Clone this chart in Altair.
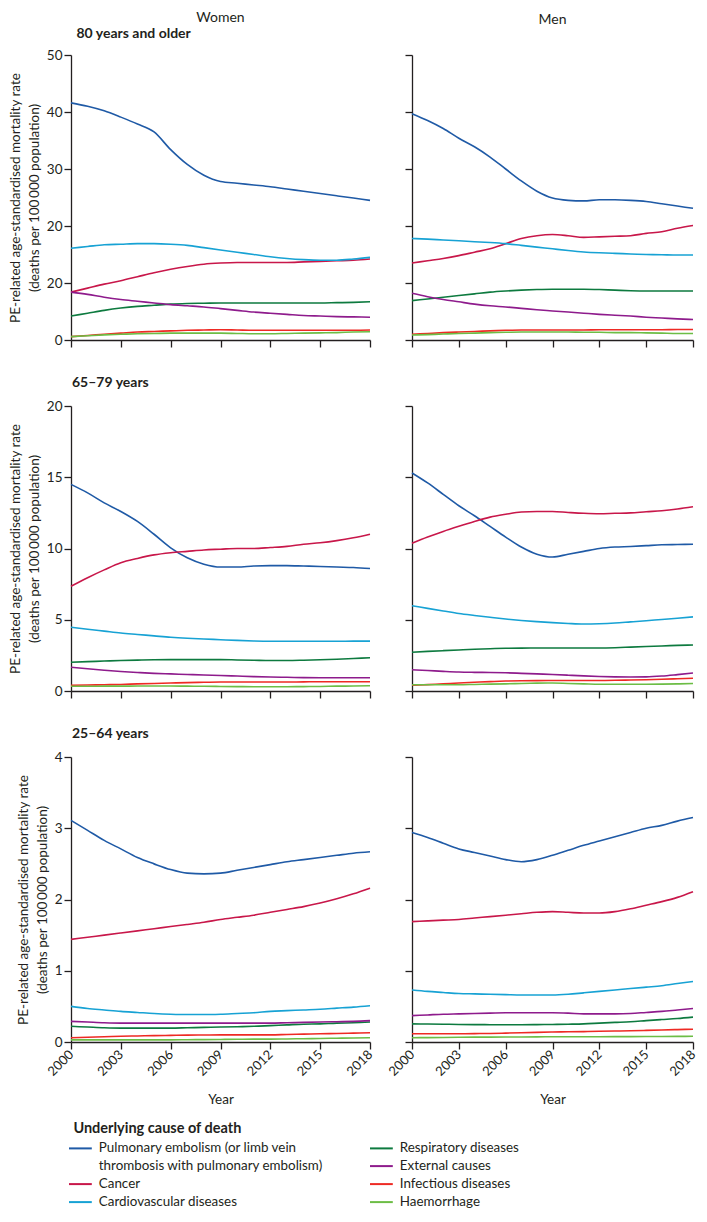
import altair as alt
import pandas as pd

YEARS = list(range(2000, 2019))
X_TICKS = [2000, 2003, 2006, 2009, 2012, 2015, 2018]

PE = "Pulmonary embolism (or limb vein thrombosis with pulmonary embolism)"
CONT = "_cont"
CANCER = "Cancer"
CARDIO = "Cardiovascular diseases"
RESP = "Respiratory diseases"
EXT = "External causes"
INF = "Infectious diseases"
HAEM = "Haemorrhage"

# legend is filled column by column: left column (PE on two lines, Cancer, Cardio), right column (the rest)
LEGEND_ORDER = [PE, CONT, CANCER, CARDIO, RESP, EXT, INF, HAEM]
LEGEND_COLORS = ["#1f5aa6", "transparent", "#c8174a", "#17a2d4", "#0d7a3f", "#8e1b8c", "#ee2a24", "#6cbd45"]

# ---- Women, 80 years and older ----
W80_PE = [41.6, 41.0, 40.2, 39.1, 37.9, 36.5, 33.4, 30.8, 28.9, 27.8, 27.5, 27.2, 26.9, 26.5, 26.1, 25.7, 25.3, 24.9, 24.5]
W80_CANCER = [8.4, 9.1, 9.8, 10.4, 11.1, 11.8, 12.4, 12.9, 13.3, 13.5, 13.6, 13.6, 13.6, 13.6, 13.7, 13.8, 13.9, 14.0, 14.2]
W80_CARDIO = [16.1, 16.4, 16.7, 16.8, 16.9, 16.9, 16.8, 16.6, 16.2, 15.8, 15.4, 15.0, 14.6, 14.3, 14.1, 14.0, 14.0, 14.2, 14.5]
W80_RESP = [4.2, 4.7, 5.2, 5.6, 5.9, 6.1, 6.3, 6.4, 6.45, 6.5, 6.5, 6.5, 6.5, 6.5, 6.5, 6.5, 6.55, 6.6, 6.7]
W80_EXT = [8.4, 8.0, 7.5, 7.1, 6.8, 6.5, 6.2, 6.0, 5.8, 5.5, 5.2, 4.9, 4.7, 4.5, 4.3, 4.2, 4.1, 4.05, 4.0]
W80_INF = [0.6, 0.8, 1.0, 1.2, 1.4, 1.5, 1.6, 1.7, 1.75, 1.8, 1.75, 1.7, 1.7, 1.7, 1.7, 1.7, 1.7, 1.7, 1.75]
W80_HAEM = [0.6, 0.75, 0.9, 1.0, 1.1, 1.15, 1.2, 1.2, 1.2, 1.2, 1.15, 1.1, 1.1, 1.15, 1.2, 1.25, 1.3, 1.4, 1.45]

# ---- Men, 80 years and older ----
M80_PE = [39.7, 38.5, 37.1, 35.4, 33.9, 32.1, 30.0, 27.9, 26.1, 24.9, 24.5, 24.4, 24.6, 24.6, 24.5, 24.3, 23.9, 23.5, 23.1]
M80_CANCER = [13.5, 13.9, 14.3, 14.8, 15.4, 16.0, 16.9, 17.8, 18.3, 18.5, 18.3, 18.0, 18.1, 18.2, 18.3, 18.7, 19.0, 19.6, 20.1]
M80_CARDIO = [17.8, 17.7, 17.55, 17.4, 17.25, 17.1, 16.9, 16.6, 16.3, 16.0, 15.7, 15.45, 15.3, 15.2, 15.1, 15.0, 14.95, 14.9, 14.9]
M80_RESP = [6.9, 7.2, 7.5, 7.8, 8.1, 8.4, 8.6, 8.75, 8.85, 8.9, 8.9, 8.9, 8.85, 8.75, 8.65, 8.6, 8.6, 8.6, 8.6]
M80_EXT = [8.2, 7.6, 7.1, 6.7, 6.3, 6.0, 5.8, 5.55, 5.3, 5.1, 4.9, 4.7, 4.5, 4.35, 4.2, 4.0, 3.85, 3.7, 3.6]
M80_INF = [1.0, 1.15, 1.3, 1.4, 1.5, 1.6, 1.7, 1.75, 1.75, 1.75, 1.75, 1.75, 1.8, 1.8, 1.8, 1.8, 1.8, 1.85, 1.85]
M80_HAEM = [0.87, 0.95, 1.05, 1.15, 1.2, 1.3, 1.35, 1.4, 1.4, 1.4, 1.4, 1.35, 1.35, 1.3, 1.3, 1.25, 1.2, 1.15, 1.15]

# ---- Women, 65-79 years ----
W65_PE = [14.5, 13.9, 13.2, 12.6, 11.9, 11.0, 10.05, 9.35, 8.9, 8.7, 8.7, 8.77, 8.8, 8.8, 8.77, 8.74, 8.7, 8.67, 8.6]
W65_CANCER = [7.35, 7.95, 8.5, 9.0, 9.3, 9.55, 9.7, 9.8, 9.9, 9.95, 10.0, 10.0, 10.07, 10.15, 10.3, 10.4, 10.55, 10.75, 11.0]
W65_CARDIO = [4.47, 4.33, 4.2, 4.07, 3.97, 3.87, 3.77, 3.7, 3.65, 3.6, 3.55, 3.51, 3.49, 3.49, 3.49, 3.49, 3.49, 3.5, 3.5]
W65_RESP = [2.02, 2.06, 2.1, 2.14, 2.17, 2.19, 2.2, 2.2, 2.2, 2.2, 2.18, 2.16, 2.14, 2.14, 2.16, 2.19, 2.23, 2.28, 2.33]
W65_EXT = [1.67, 1.56, 1.46, 1.37, 1.3, 1.24, 1.2, 1.16, 1.12, 1.09, 1.05, 1.01, 0.98, 0.96, 0.94, 0.93, 0.93, 0.93, 0.93]
W65_INF = [0.4, 0.42, 0.44, 0.46, 0.5, 0.53, 0.56, 0.59, 0.61, 0.63, 0.63, 0.63, 0.63, 0.63, 0.64, 0.65, 0.65, 0.65, 0.65]
W65_HAEM = [0.33, 0.33, 0.34, 0.34, 0.35, 0.35, 0.35, 0.34, 0.33, 0.32, 0.31, 0.3, 0.3, 0.3, 0.31, 0.32, 0.34, 0.35, 0.37]

# ---- Men, 65-79 years ----
M65_PE = [15.3, 14.6, 13.8, 13.0, 12.3, 11.55, 10.8, 10.1, 9.6, 9.4, 9.6, 9.8, 10.0, 10.1, 10.14, 10.2, 10.26, 10.28, 10.3]
M65_CANCER = [10.37, 10.8, 11.2, 11.56, 11.9, 12.2, 12.4, 12.56, 12.6, 12.6, 12.53, 12.47, 12.44, 12.47, 12.5, 12.58, 12.65, 12.77, 12.93]
M65_CARDIO = [5.98, 5.8, 5.62, 5.44, 5.3, 5.17, 5.05, 4.95, 4.87, 4.8, 4.74, 4.7, 4.72, 4.77, 4.85, 4.93, 5.02, 5.1, 5.2]
M65_RESP = [2.72, 2.78, 2.83, 2.88, 2.93, 2.97, 3.0, 3.01, 3.02, 3.02, 3.02, 3.02, 3.02, 3.04, 3.08, 3.12, 3.16, 3.2, 3.23]
M65_EXT = [1.49, 1.44, 1.38, 1.33, 1.31, 1.3, 1.28, 1.24, 1.2, 1.16, 1.11, 1.06, 1.02, 0.99, 0.98, 0.99, 1.05, 1.15, 1.26]
M65_INF = [0.4, 0.45, 0.5, 0.56, 0.61, 0.66, 0.7, 0.72, 0.73, 0.74, 0.74, 0.74, 0.74, 0.75, 0.77, 0.79, 0.82, 0.86, 0.9]
M65_HAEM = [0.44, 0.44, 0.44, 0.44, 0.46, 0.48, 0.5, 0.53, 0.55, 0.56, 0.53, 0.5, 0.47, 0.47, 0.47, 0.47, 0.48, 0.5, 0.53]

# ---- Women, 25-64 years ----
W25_PE = [3.11, 2.97, 2.83, 2.71, 2.59, 2.5, 2.42, 2.37, 2.36, 2.37, 2.41, 2.45, 2.49, 2.53, 2.56, 2.59, 2.62, 2.65, 2.67]
W25_CANCER = [1.44, 1.47, 1.5, 1.53, 1.56, 1.59, 1.62, 1.65, 1.68, 1.72, 1.75, 1.78, 1.82, 1.86, 1.9, 1.95, 2.01, 2.08, 2.16]
W25_CARDIO = [0.5, 0.47, 0.45, 0.43, 0.415, 0.4, 0.39, 0.385, 0.385, 0.39, 0.4, 0.41, 0.43, 0.44, 0.45, 0.46, 0.475, 0.49, 0.51]
W25_RESP = [0.22, 0.21, 0.2, 0.195, 0.195, 0.195, 0.195, 0.2, 0.205, 0.21, 0.215, 0.22, 0.23, 0.24, 0.25, 0.255, 0.265, 0.27, 0.28]
W25_EXT = [0.29, 0.28, 0.27, 0.265, 0.265, 0.265, 0.265, 0.265, 0.265, 0.265, 0.265, 0.265, 0.265, 0.27, 0.275, 0.28, 0.285, 0.29, 0.3]
W25_INF = [0.06, 0.067, 0.073, 0.08, 0.085, 0.09, 0.093, 0.096, 0.098, 0.1, 0.1, 0.1, 0.1, 0.105, 0.11, 0.116, 0.12, 0.125, 0.13]
W25_HAEM = [0.03, 0.03, 0.03, 0.03, 0.03, 0.03, 0.03, 0.032, 0.034, 0.036, 0.038, 0.04, 0.04, 0.043, 0.046, 0.05, 0.053, 0.056, 0.06]

# ---- Men, 25-64 years ----
M25_PE = [2.94, 2.87, 2.79, 2.71, 2.66, 2.61, 2.56, 2.53, 2.56, 2.62, 2.69, 2.76, 2.82, 2.88, 2.94, 3.0, 3.04, 3.1, 3.15]
M25_CANCER = [1.69, 1.70, 1.71, 1.72, 1.74, 1.76, 1.78, 1.80, 1.82, 1.83, 1.82, 1.81, 1.81, 1.83, 1.87, 1.92, 1.97, 2.03, 2.11]
M25_CARDIO = [0.73, 0.71, 0.695, 0.68, 0.675, 0.67, 0.665, 0.66, 0.66, 0.66, 0.67, 0.69, 0.71, 0.73, 0.75, 0.77, 0.79, 0.82, 0.85]
M25_RESP = [0.255, 0.252, 0.25, 0.246, 0.244, 0.243, 0.242, 0.242, 0.244, 0.246, 0.25, 0.255, 0.265, 0.275, 0.285, 0.3, 0.315, 0.33, 0.35]
M25_EXT = [0.37, 0.38, 0.39, 0.395, 0.4, 0.405, 0.41, 0.41, 0.41, 0.41, 0.405, 0.395, 0.395, 0.395, 0.4, 0.415, 0.43, 0.45, 0.47]
M25_INF = [0.116, 0.116, 0.116, 0.116, 0.118, 0.12, 0.125, 0.13, 0.135, 0.14, 0.143, 0.146, 0.15, 0.154, 0.158, 0.163, 0.168, 0.174, 0.18]
M25_HAEM = [0.06, 0.062, 0.064, 0.066, 0.068, 0.069, 0.07, 0.071, 0.072, 0.073, 0.073, 0.074, 0.074, 0.075, 0.076, 0.077, 0.078, 0.079, 0.08]

SERIES = {
    ("Women", "80"): {PE: W80_PE, CANCER: W80_CANCER, CARDIO: W80_CARDIO, RESP: W80_RESP, EXT: W80_EXT, INF: W80_INF, HAEM: W80_HAEM},
    ("Men", "80"): {PE: M80_PE, CANCER: M80_CANCER, CARDIO: M80_CARDIO, RESP: M80_RESP, EXT: M80_EXT, INF: M80_INF, HAEM: M80_HAEM},
    ("Women", "65"): {PE: W65_PE, CANCER: W65_CANCER, CARDIO: W65_CARDIO, RESP: W65_RESP, EXT: W65_EXT, INF: W65_INF, HAEM: W65_HAEM},
    ("Men", "65"): {PE: M65_PE, CANCER: M65_CANCER, CARDIO: M65_CARDIO, RESP: M65_RESP, EXT: M65_EXT, INF: M65_INF, HAEM: M65_HAEM},
    ("Women", "25"): {PE: W25_PE, CANCER: W25_CANCER, CARDIO: W25_CARDIO, RESP: W25_RESP, EXT: W25_EXT, INF: W25_INF, HAEM: W25_HAEM},
    ("Men", "25"): {PE: M25_PE, CANCER: M25_CANCER, CARDIO: M25_CARDIO, RESP: M25_RESP, EXT: M25_EXT, INF: M25_INF, HAEM: M25_HAEM},
}

rows = []
for (sex, age), d in SERIES.items():
    for cause, vals in d.items():
        for yr, v in zip(YEARS, vals):
            rows.append({"sex": sex, "age": age, "cause": cause, "year": yr, "rate": v})
df = pd.DataFrame(rows)

FONT = "Lato"
INK = "#231f20"
Y_TITLE = ["PE-related age-standardised mortality rate", "(deaths per 100\u2009000 population)"]

ROW_TITLES = {"80": "80 years and older", "65": "65\u201379 years", "25": "25\u201364 years"}
Y_MAX = {"80": 50, "65": 20, "25": 4}
Y_STEP = {"80": 10, "65": 5, "25": 1}

PANEL_H = 285
W_WIDTH = 299
M_WIDTH = 281
ROW_SPACING = 28

color_enc = alt.Color(
    "cause:N",
    scale=alt.Scale(domain=LEGEND_ORDER, range=LEGEND_COLORS),
    legend=alt.Legend(
        title="Underlying cause of death",
        orient="none",
        legendX=2.4,
        legendY=1066.6,
        padding=0,
        columns=2,
        direction="vertical",
        symbolType="M-2,0H2",
        symbolSize=130,
        symbolStrokeWidth=2,
        labelFontSize=13.4,
        labelFont=FONT,
        labelColor=INK,
        labelLimit=400,
        labelOffset=11.4,
        titleFont=FONT,
        titleFontSize=14.5,
        titleFontWeight="bold",
        titleColor=INK,
        titlePadding=5,
        rowPadding=4,
        columnPadding=42,
        labelExpr=(
            "datum.value == '" + PE + "' ? 'Pulmonary embolism (or limb vein' : "
            "datum.value == '" + CONT + "' ? 'thrombosis with pulmonary embolism)' : datum.label"
        ),
    ),
)

X_SCALE = alt.Scale(domain=[2000, 2018], nice=False, zero=False)


def lines(sex, age, width):
    women = sex == "Women"
    bottom = age == "25"
    ymax, ystep = Y_MAX[age], Y_STEP[age]
    yvals = list(range(0, ymax + 1, ystep))
    ylabel_expr = "datum.label"
    if women and age == "80":
        # the reference figure labels the 10 tick as "20"
        ylabel_expr = "datum.value == 10 ? '20' : datum.label"
    x_axis = alt.Axis(
        values=X_TICKS,
        format="d",
        labels=bottom,
        labelAngle=-45,
        labelAlign="right",
        labelBaseline="middle",
        labelPadding=3,
        labelFontSize=13,
        title="Year" if bottom else None,
        titlePadding=14,
    )
    y_enc = alt.Y(
        "rate:Q",
        scale=alt.Scale(domain=[0, ymax], nice=False),
        axis=alt.Axis(values=yvals, labels=women, labelExpr=ylabel_expr,
                      title=Y_TITLE if women else None, titlePadding=5),
    )
    base = alt.Chart(df).transform_filter((alt.datum.sex == sex) & (alt.datum.age == age))
    main = base.mark_line(strokeWidth=1.6, interpolate="monotone").encode(
        x=alt.X("year:Q", scale=X_SCALE, axis=x_axis),
        y=y_enc,
        color=color_enc,
    )
    return base, main, y_enc


def header(text, offset):
    return alt.TitleParams(
        text, anchor="middle", frame="group", fontSize=14, fontWeight="normal",
        font=FONT, color=INK, offset=offset,
    )


def row_title(text):
    return alt.TitleParams(
        text, anchor="start", frame="group", fontSize=14, fontWeight="bold",
        font=FONT, color=INK, dx=1, offset=9,
    )


# --- row 1: column headers + age band written on a top axis of the women panel ---
b, w1_main, w1_y = lines("Women", "80", W_WIDTH)
w1_top = b.mark_line(strokeOpacity=0).encode(
    x=alt.X("year:Q", scale=X_SCALE, axis=alt.Axis(
        orient="top", labels=False, ticks=False, domain=False,
        title=ROW_TITLES["80"], titleFontWeight="bold", titleFontSize=14,
        titleAlign="left", titleAnchor="start", titleBaseline="middle",
        titleX=5, titleY=-22,
    )),
    y=w1_y,
)
W1 = (
    alt.layer(w1_main, w1_top)
    .resolve_axis(x="independent")
    .properties(width=W_WIDTH, height=PANEL_H, title=header("Women", 1))
)
_, m1_main, _ = lines("Men", "80", M_WIDTH)
M1 = m1_main.properties(width=M_WIDTH, height=PANEL_H, title=header("Men", 27))

# --- rows 2 and 3 ---
_, w2, _ = lines("Women", "65", W_WIDTH)
_, m2, _ = lines("Men", "65", M_WIDTH)
_, w3, _ = lines("Women", "25", W_WIDTH)
_, m3, _ = lines("Men", "25", M_WIDTH)
W2 = w2.properties(width=W_WIDTH, height=PANEL_H, title=row_title(ROW_TITLES["65"]))
M2 = m2.properties(width=M_WIDTH, height=PANEL_H)
W3 = w3.properties(width=W_WIDTH, height=PANEL_H, title=row_title(ROW_TITLES["25"]))
M3 = m3.properties(width=M_WIDTH, height=PANEL_H)

row1 = alt.hconcat(W1, M1, spacing=42, bounds="flush")
row2 = alt.hconcat(W2, M2, spacing=42, bounds="flush")
row3 = alt.hconcat(W3, M3, spacing=42, bounds="flush")

chart = (
    alt.vconcat(row1, row2, row3, spacing=ROW_SPACING)
    .properties(padding={"left": 0, "top": 3, "right": 0, "bottom": 0})
    .configure_view(stroke=None)
    .configure_axis(
        grid=False,
        domainColor=INK,
        domainWidth=1.3,
        tickColor=INK,
        tickWidth=1.3,
        tickSize=7,
        labelFont=FONT,
        labelFontSize=13.5,
        labelColor=INK,
        labelPadding=2,
        titleFont=FONT,
        titleFontSize=13.5,
        titleFontWeight="normal",
        titleColor=INK,
        titleLineHeight=19,
    )
)

chart.save("out.html", embed_options={"renderer": "svg", "actions": False})
